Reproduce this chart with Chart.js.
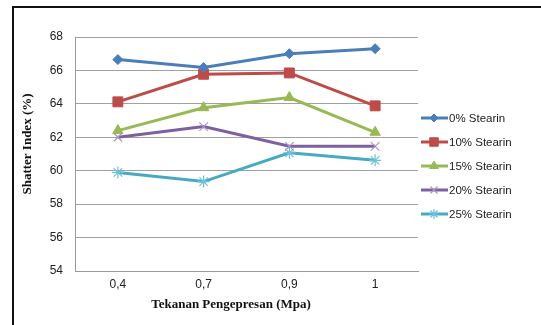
<!DOCTYPE html>
<html>
<head>
<meta charset="utf-8">
<script src="https://cdn.jsdelivr.net/npm/chart.js@4/dist/chart.umd.min.js"></script>
<style>
  html, body { margin: 0; padding: 0; background: #fff; }
  #wrap { width: 541px; height: 325px; position: relative; }
</style>
</head>
<body>
<div id="wrap"><canvas id="chart"></canvas></div>
<script>
// --- data ---
const pressures = ['0,4', '0,7', '0,9', '1'];
const stearin0 = [66.65, 66.17, 67.0, 67.3];
const stearin10 = [64.12, 65.77, 65.85, 63.88];
const stearin15 = [62.4, 63.77, 64.38, 62.3];
const stearin20 = [62.0, 62.64, 61.46, 61.46];
const stearin25 = [59.9, 59.35, 61.07, 60.62];
const seriesNames = ['0% Stearin', '10% Stearin', '15% Stearin', '20% Stearin', '25% Stearin'];
const yTicks = [54, 56, 58, 60, 62, 64, 66, 68];

const colors = ['#4a7ebb', '#be4b48', '#98b954', '#7d60a0', '#46aac5'];
const markerColors = ['#4a7ebb', '#be4b48', '#98b954', '#a996c6', '#6cc3d9'];
const markers = ['rectRot', 'rect', 'triangle', 'crossRot', 'star'];
const markerSizes = [5, 7, 6, 6, 6];

const seriesData = [stearin0, stearin10, stearin15, stearin20, stearin25];

const datasets = seriesData.map((vals, i) => ({
    label: seriesNames[i],
    data: vals,
    borderColor: colors[i],
    backgroundColor: markerColors[i],
    pointStyle: markers[i],
    pointRadius: markerSizes[i],
    pointBorderColor: markerColors[i],
    pointBackgroundColor: markerColors[i],
    pointBorderWidth: (i >= 3) ? 1.2 : 1,
    borderWidth: 3,
    tension: 0
}));

// --- frame, axis titles and the legend on the right ---
const decorations = {
    id: 'decorations',
    beforeDraw(chart) {
        const ctx = chart.ctx;
        ctx.save();
        ctx.fillStyle = '#fff';
        ctx.fillRect(0, 0, chart.width, chart.height);
        ctx.strokeStyle = '#111';
        ctx.lineWidth = 2;
        ctx.beginPath();
        ctx.moveTo(13, chart.height + 2);
        ctx.lineTo(13, 7);
        ctx.lineTo(chart.width + 2, 7);
        ctx.stroke();
        ctx.restore();
    },
    afterDraw(chart) {
        const ctx = chart.ctx;
        ctx.save();
        ctx.fillStyle = '#111';
        ctx.font = 'bold 13px "Liberation Serif", "Times New Roman", serif';
        ctx.textAlign = 'center';
        ctx.textBaseline = 'middle';
        ctx.fillText('Tekanan Pengepresan (Mpa)', 231, 305);
        ctx.translate(28, 144);
        ctx.rotate(-Math.PI / 2);
        ctx.fillText('Shatter Index (%)', 0, 0);
        ctx.restore();

        // legend: line + marker + text
        ctx.save();
        ctx.font = '11.5px "Liberation Sans", Arial, sans-serif';
        ctx.textBaseline = 'middle';
        ctx.textAlign = 'left';
        chart.data.datasets.forEach((ds, i) => {
            const y = 118 + i * 24;
            ctx.strokeStyle = ds.borderColor;
            ctx.lineWidth = 3;
            ctx.beginPath();
            ctx.moveTo(421, y);
            ctx.lineTo(448, y);
            ctx.stroke();
            ctx.strokeStyle = ds.pointBorderColor;
            ctx.fillStyle = ds.pointBackgroundColor;
            ctx.lineWidth = ds.pointBorderWidth;
            Chart.helpers.drawPoint(ctx, {
                pointStyle: ds.pointStyle,
                radius: ds.pointRadius - 1,
                borderWidth: ds.pointBorderWidth,
                rotation: 0
            }, 434, y);
            ctx.fillStyle = '#222';
            ctx.fillText(ds.label, 449, y + 0.5);
        });
        ctx.restore();
    }
};

const ctx = document.getElementById('chart').getContext('2d');
new Chart(ctx, {
    type: 'line',
    data: { labels: pressures, datasets: datasets },
    options: {
        responsive: true,
        maintainAspectRatio: false,
        animation: false,
        layout: { padding: { top: 37, right: 123, bottom: 0, left: 0 } },
        plugins: {
            legend: { display: false },
            tooltip: { enabled: false }
        },
        scales: {
            x: {
                offset: true,
                grid: { display: false },
                border: { display: true, color: '#9a9a9a', width: 1 },
                ticks: {
                    color: '#222',
                    font: { family: '"Liberation Sans", Arial, sans-serif', size: 12 },
                    padding: -2
                },
                afterFit(scale) { scale.height = 54; }
            },
            y: {
                min: 54,
                max: 68,
                afterBuildTicks(scale) { scale.ticks = yTicks.map(v => ({ value: v })); },
                grid: { color: '#a0a0a0', lineWidth: 1, drawTicks: false },
                border: { display: true, color: '#9a9a9a', width: 1 },
                ticks: {
                    color: '#222',
                    font: { family: '"Liberation Sans", Arial, sans-serif', size: 12 },
                    padding: 12
                },
                afterFit(scale) { scale.width = 75; }
            }
        }
    },
    plugins: [decorations]
});
</script>
</body>
</html>
